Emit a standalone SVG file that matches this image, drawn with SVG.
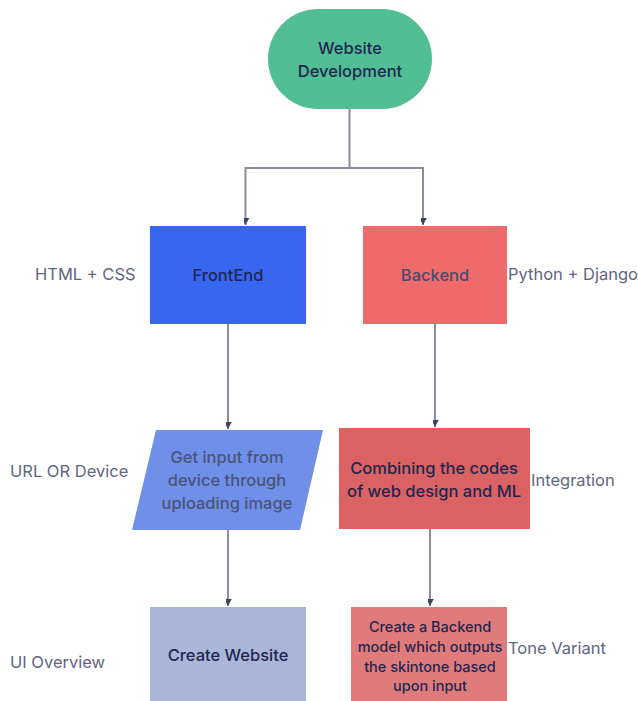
<svg xmlns="http://www.w3.org/2000/svg" width="638" height="701" viewBox="0 0 638 701">
<style>
.t{font-family:Inter,"Liberation Sans",sans-serif;font-size:16.5px;font-weight:500;fill:#1e2650;text-anchor:middle;dominant-baseline:central}
.l{font-family:Inter,"Liberation Sans",sans-serif;font-size:16.5px;fill:#5f6582;dominant-baseline:central}
.c{fill:none;stroke:#8a8ca0;stroke-width:2}
</style>
<defs>
<marker id="a" viewBox="-7 -12 14 14" refX="0" refY="0" markerWidth="14" markerHeight="14" markerUnits="userSpaceOnUse" orient="auto">
<path d="M0,0 L-6,-11 L0,-7 L6,-11 Z" fill="#3f4560" transform="rotate(-90)"/>
</marker>
</defs>
<rect width="638" height="701" fill="#ffffff"/>
<g id="connectors">
<path class="c" d="M349.5,109 V168 H245.5 V225" marker-end="url(#a)"/>
<path class="c" d="M349.5,168 H423 V225" marker-end="url(#a)"/>
<path class="c" d="M228,324 V429" marker-end="url(#a)"/>
<path class="c" d="M435,324 V427" marker-end="url(#a)"/>
<path class="c" d="M228,530 V606" marker-end="url(#a)"/>
<path class="c" d="M430,529 V606" marker-end="url(#a)"/>
</g>
<g id="website-development">
<rect x="268" y="9" width="164" height="100" rx="50" fill="#52be93"/>
<text class="t" x="350" y="48">Website</text>
<text class="t" x="350" y="71">Development</text>
</g>
<g id="frontend">
<rect x="150" y="226" width="156" height="98" fill="#3866f0"/>
<text class="t" x="228" y="275">FrontEnd</text>
</g>
<g id="backend">
<rect x="363" y="226" width="144" height="98" fill="#ef6a6a"/>
<text class="t" x="435" y="275" style="fill:#474d6a">Backend</text>
</g>
<g id="get-input">
<polygon points="156,430 323,430 300,530 132,530" fill="#6f8fe8"/>
<text class="t" x="227" y="457" style="fill:#4a5478">Get input from</text>
<text class="t" x="227" y="480" style="fill:#4a5478">device through</text>
<text class="t" x="227" y="503" style="fill:#4a5478">uploading image</text>
</g>
<g id="combining">
<rect x="339" y="428" width="191" height="101" fill="#da6262"/>
<text class="t" x="434" y="468">Combining the codes</text>
<text class="t" x="434" y="491">of web design and ML</text>
</g>
<g id="create-website">
<rect x="150" y="607" width="156" height="94" fill="#aab6d9"/>
<text class="t" x="228" y="655">Create Website</text>
</g>
<g id="backend-model">
<rect x="351" y="607" width="156" height="94" fill="#e07b7b"/>
<text class="t" x="430" y="626" style="font-size:14.5px">Create a Backend</text>
<text class="t" x="430" y="646" style="font-size:14.5px">model which outputs</text>
<text class="t" x="430" y="666" style="font-size:14.5px">the skintone based</text>
<text class="t" x="430" y="685" style="font-size:14.5px">upon input</text>
</g>
<g id="labels">
<text class="l" x="35" y="274">HTML + CSS</text>
<text class="l" x="508" y="274">Python + Django</text>
<text class="l" x="10" y="471">URL OR Device</text>
<text class="l" x="531" y="480">Integration</text>
<text class="l" x="10" y="662">UI Overview</text>
<text class="l" x="508" y="648">Tone Variant</text>
</g>
</svg>
